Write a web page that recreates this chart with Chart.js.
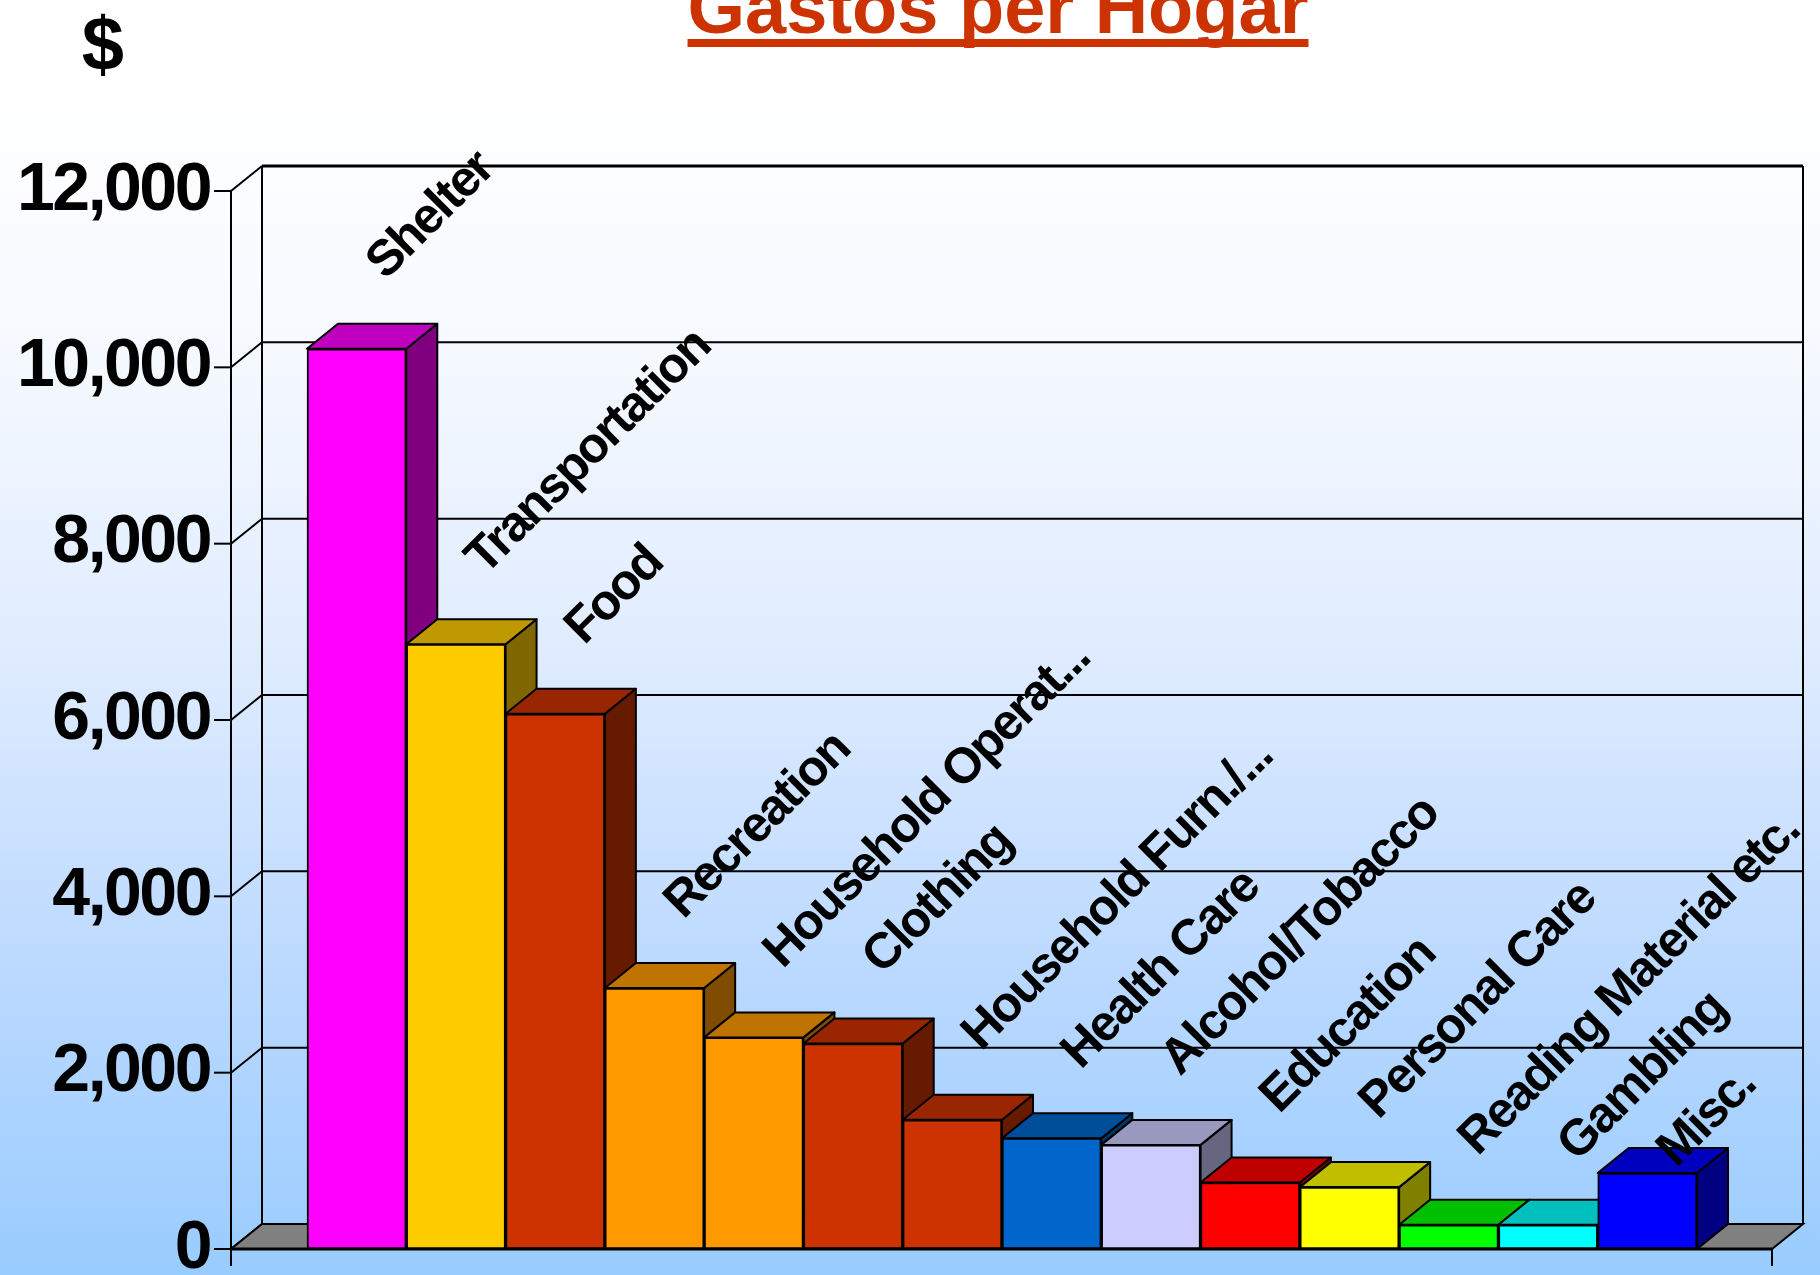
<!DOCTYPE html>
<html>
<head>
<meta charset="utf-8">
<title>Gastos per Hogar</title>
<script src="https://cdn.jsdelivr.net/npm/chart.js@4.4.1/dist/chart.umd.min.js"></script>
<style>
    html, body { margin: 0; padding: 0; background: #fff; }
    canvas { display: block; }
</style>
</head>
<body>
<canvas id="gastos-chart" width="1820" height="1275"></canvas>
<script>
const categories = [
    'Shelter', 'Transportation', 'Food', 'Recreation', 'Household Operat...',
    'Clothing', 'Household Furn./...', 'Health Care', 'Alcohol/Tobacco',
    'Education', 'Personal Care', 'Reading Material etc.', 'Gambling', 'Misc.'
];
const gastos = [10210, 6860, 6070, 2960, 2400, 2330, 1465, 1257, 1181, 754, 702, 275, 275, 861];
const barColors = [
    '#FF00FF', '#FFCC00', '#CC3300', '#FF9900', '#FF9900', '#CC3300', '#CC3300',
    '#0066CC', '#CCCCFF', '#FF0000', '#FFFF00', '#00FF00', '#00FFFF', '#0000FF'
];
const yTickValues = [0, 2000, 4000, 6000, 8000, 10000, 12000];

const FONT = "'Liberation Sans', Arial, sans-serif";
const DEPTH = { x: 31, y: -25 };   // 3d offset of the back wall
const FLOOR_PAD = 76;              // grey floor left/right of the bars
const LABEL_GAP = 105;             // min spacing between slanted labels (along x+y)

function shade(hex, f) {
    const n = parseInt(hex.slice(1), 16);
    const r = Math.round(((n >> 16) & 255) * f);
    const g = Math.round(((n >> 8) & 255) * f);
    const b = Math.round((n & 255) * f);
    return `rgb(${r}, ${g}, ${b})`;
}

function poly(ctx, pts, fill) {
    ctx.beginPath();
    ctx.moveTo(pts[0][0], pts[0][1]);
    for (let i = 1; i < pts.length; i++) {
        ctx.lineTo(pts[i][0], pts[i][1]);
    }
    ctx.closePath();
    if (fill) {
        ctx.fillStyle = fill;
        ctx.fill();
    }
    ctx.stroke();
}

function line(ctx, x1, y1, x2, y2) {
    ctx.beginPath();
    ctx.moveTo(x1, y1);
    ctx.lineTo(x2, y2);
    ctx.stroke();
}

const slidePlugin = {
    id: 'slide',

    beforeDraw(chart) {
        const { ctx, width, height } = chart;
        ctx.save();
        ctx.letterSpacing = '0px';
        ctx.fillStyle = '#ffffff';
        ctx.fillRect(0, 0, width, height);
        const grad = ctx.createLinearGradient(0, 83, 0, height);
        grad.addColorStop(0, '#ffffff');
        grad.addColorStop(0.23, '#f5f9ff');
        grad.addColorStop(0.49, '#deebff');
        grad.addColorStop(0.745, '#bbd9ff');
        grad.addColorStop(1, '#99ccff');
        ctx.fillStyle = grad;
        ctx.fillRect(0, 83, width, height - 83);

        // title, underlined
        const title = 'Gastos per Hogar';
        const cx = 998;
        ctx.font = `bold 74px ${FONT}`;
        ctx.fillStyle = '#cc3300';
        ctx.textAlign = 'center';
        ctx.textBaseline = 'alphabetic';
        ctx.fillText(title, cx, 33);
        const w = ctx.measureText(title).width;
        ctx.fillRect(cx - w / 2, 39, w, 8);

        ctx.font = `bold 76px ${FONT}`;
        ctx.fillStyle = '#000000';
        ctx.fillText('$', 103, 70);
        ctx.restore();

        // the axis numbers in the slide are set a little tight
        ctx.letterSpacing = '-2.5px';
    },

    beforeDatasetsDraw(chart) {
        const { ctx, chartArea, scales } = chart;
        const y = scales.y;
        const fl = chartArea.left - FLOOR_PAD;
        const fr = chartArea.right + FLOOR_PAD - 1;
        const yTop = y.getPixelForValue(12000);
        const y0 = y.getPixelForValue(0);

        ctx.save();
        ctx.strokeStyle = '#000000';
        ctx.lineWidth = 2;

        yTickValues.forEach(v => {
            const yv = y.getPixelForValue(v);
            line(ctx, fl + DEPTH.x, yv + DEPTH.y, fr + DEPTH.x, yv + DEPTH.y);
            line(ctx, fl, yv, fl + DEPTH.x, yv + DEPTH.y);
            line(ctx, fl - 17, yv, fl, yv);
        });

        line(ctx, fl + DEPTH.x, yTop + DEPTH.y, fl + DEPTH.x, y0 + DEPTH.y);
        line(ctx, fr + DEPTH.x, yTop + DEPTH.y, fr + DEPTH.x, y0 + DEPTH.y);
        line(ctx, fl, yTop, fl, y0 + 17);

        ctx.lineWidth = 3;
        line(ctx, fl + DEPTH.x, yTop + DEPTH.y, fr + DEPTH.x, yTop + DEPTH.y);

        // floor
        ctx.lineWidth = 2;
        poly(ctx, [
            [fl, y0], [fr, y0], [fr + DEPTH.x, y0 + DEPTH.y], [fl + DEPTH.x, y0 + DEPTH.y]
        ], '#808080');
        ctx.lineWidth = 3;
        line(ctx, fl, y0, fr, y0);
        ctx.lineWidth = 2;
        line(ctx, fr, y0, fr, y0 + 17);
        ctx.restore();
    },

    beforeDatasetDraw() {
        // bars are drawn as boxes below, left to right
        return false;
    },

    afterDatasetsDraw(chart) {
        const { ctx } = chart;
        const meta = chart.getDatasetMeta(0);

        ctx.save();
        ctx.strokeStyle = '#000000';
        ctx.lineWidth = 2;
        ctx.lineJoin = 'round';

        meta.data.forEach((el, i) => {
            const { x, y, base, width } = el.getProps(['x', 'y', 'base', 'width'], true);
            const left = x - width / 2;
            const right = x + width / 2;
            const color = barColors[i];

            poly(ctx, [
                [right, y], [right + DEPTH.x, y + DEPTH.y],
                [right + DEPTH.x, base + DEPTH.y], [right, base]
            ], shade(color, 0.5));
            poly(ctx, [
                [left, y], [left + DEPTH.x, y + DEPTH.y],
                [right + DEPTH.x, y + DEPTH.y], [right, y]
            ], shade(color, 0.75));
            el.draw(ctx);
        });

        // category names, slanted above each box; pushed down if they would
        // run into the previous one
        ctx.font = `bold 50px ${FONT}`;
        ctx.letterSpacing = '-2px';
        ctx.fillStyle = '#000000';
        ctx.textAlign = 'left';
        ctx.textBaseline = 'alphabetic';
        let lastDiag = -Infinity;
        meta.data.forEach((el, i) => {
            const { x, y } = el.getProps(['x', 'y'], true);
            const lx = x + DEPTH.x - 2;
            let ly = y + DEPTH.y - 43;
            if (lx + ly < lastDiag + LABEL_GAP) {
                ly = lastDiag + LABEL_GAP - lx;
            }
            lastDiag = lx + ly;
            ctx.save();
            ctx.translate(lx, ly);
            ctx.rotate(-Math.PI / 4);
            ctx.fillText(categories[i], 0, 0);
            ctx.restore();
        });
        ctx.restore();
    }
};

new Chart(document.getElementById('gastos-chart'), {
    type: 'bar',
    data: {
        labels: categories,
        datasets: [{
            data: gastos,
            backgroundColor: barColors,
            borderColor: '#000000',
            borderWidth: 2,
            borderSkipped: false,
            categoryPercentage: 1,
            barPercentage: 1
        }]
    },
    options: {
        responsive: false,
        devicePixelRatio: 1,
        animation: false,
        locale: 'en-US',
        layout: {
            padding: { left: 0, top: 191, right: 123, bottom: 26 }
        },
        plugins: {
            legend: { display: false },
            tooltip: { enabled: false },
            title: { display: false }
        },
        scales: {
            x: {
                display: false
            },
            y: {
                min: 0,
                max: 12000,
                afterFit: (scale) => {
                    scale.width = 307;
                    scale.paddingTop = 0;
                    scale.paddingBottom = 0;
                },
                ticks: {
                    stepSize: 2000,
                    padding: 97,
                    color: '#000000',
                    font: { family: FONT, size: 68, weight: 'bold' }
                },
                grid: { display: false, drawTicks: false },
                border: { display: false }
            }
        }
    },
    plugins: [slidePlugin]
});
</script>
</body>
</html>
